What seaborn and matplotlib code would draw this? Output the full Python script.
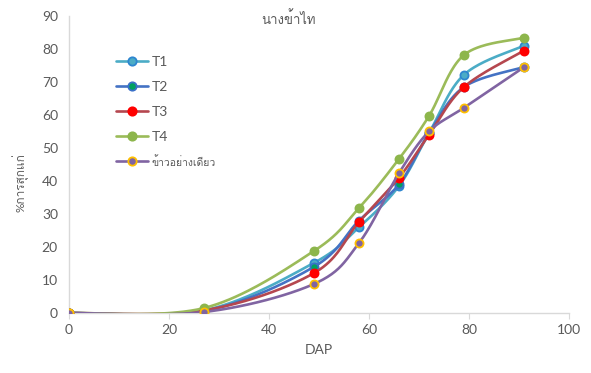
import numpy as np
import pandas as pd
import matplotlib
matplotlib.use("Agg")
import matplotlib.pyplot as plt
from matplotlib import font_manager
from matplotlib.lines import Line2D
import seaborn as sns

# ---- data ----
dap = [0, 27, 49, 58, 66, 72, 79, 91]
t1 = [0, 0.8, 15.2, 26.0, 38.5, 54.5, 72.2, 81.0]
t2 = [0, 0.6, 14.0, 28.0, 39.0, 54.5, 68.5, 74.5]
t3 = [0, 0.8, 12.1, 27.6, 41.0, 54.0, 68.5, 79.5]
t4 = [0, 1.5, 18.8, 31.8, 46.7, 59.7, 78.2, 83.4]
rice_only = [0, 0.3, 8.8, 21.2, 42.4, 55.0, 62.2, 74.5]
series_names = ["T1", "T2", "T3", "T4", "ข้าวอย่างเดียว"]
title_text = "นางข้าไท"
ylabel_text = "%การสุกแก่"
xlabel_text = "DAP"
x_ticks = [0, 20, 40, 60, 80, 100]
y_ticks = [0, 10, 20, 30, 40, 50, 60, 70, 80, 90]

sns.set_theme(style="white")

# find a font that has Thai glyphs
thai_family = None
for f in font_manager.fontManager.ttflist:
    try:
        ft = matplotlib.ft2font.FT2Font(f.fname)
        cm = ft.get_charmap()
        if 0x0E19 in cm and 0x0E32 in cm:
            thai_family = f.name
            break
    except Exception:
        pass
fams = ["Lato", "DejaVu Sans"]
if thai_family:
    fams = ["Lato", thai_family, "DejaVu Sans"]
plt.rcParams["font.family"] = fams

grey = "#595959"

line_colors = ["#4BACC6", "#4472C4", "#B5474F", "#9BBB59", "#8064A2"]
marker_faces = ["#4BACC6", "#00A060", "#FF0000", "#8DB64C", "#8064A2"]
marker_edges = ["#2E86D0", "#3A70C8", "#FF0000", "#8DB64C", "#FFC000"]


def smooth(xs, ys, n=40):
    # Excel-like smoothed line: Catmull-Rom converted to cubic Bezier
    P = np.column_stack([xs, ys]).astype(float)
    out = []
    m = len(P)
    t = np.linspace(0, 1, n)[:, None]
    for i in range(m - 1):
        p0 = P[i - 1] if i > 0 else P[i]
        p1 = P[i]
        p2 = P[i + 1]
        p3 = P[i + 2] if i + 2 < m else P[i + 1]
        c1 = p1 + (p2 - p0) / 6.0
        c2 = p2 - (p3 - p1) / 6.0
        seg = ((1 - t) ** 3) * p1 + 3 * ((1 - t) ** 2) * t * c1 + 3 * (1 - t) * t ** 2 * c2 + t ** 3 * p2
        out.append(seg if i == 0 else seg[1:])
    S = np.vstack(out)
    return S[:, 0], S[:, 1]


fig = plt.figure(figsize=(5.91, 3.73), dpi=100)
ax = fig.add_axes([69 / 591, 60 / 373, 500 / 591, 297 / 373])

all_series = [t1, t2, t3, t4, rice_only]
handles = []
for k, (name, vals) in enumerate(zip(series_names, all_series)):
    sx, sy = smooth(dap, vals)
    df_s = pd.DataFrame({"x": sx, "y": sy})
    sns.lineplot(data=df_s, x="x", y="y", sort=False, estimator=None, ax=ax,
                 color=line_colors[k], linewidth=1.9, legend=False, zorder=2 + k)
    df_p = pd.DataFrame({"x": dap, "y": vals})
    sns.scatterplot(data=df_p, x="x", y="y", ax=ax, s=34, color=marker_faces[k],
                    edgecolor=marker_edges[k], linewidth=1.3, legend=False, zorder=2.5 + k)
    handles.append(Line2D([0], [0], color=line_colors[k], lw=1.9, marker="o", markersize=6,
                          markerfacecolor=marker_faces[k], markeredgecolor=marker_edges[k],
                          markeredgewidth=1.3))

ax.set_xlim(0, 100)
ax.set_ylim(0, 90)
ax.set_xticks(x_ticks)
ax.set_yticks(y_ticks)
ax.tick_params(axis="x", colors=grey, labelsize=10, length=4, width=0.8, direction="out",
               color="#D9D9D9", bottom=True, pad=4)
ax.tick_params(axis="y", colors=grey, labelsize=10, length=0, pad=8)
for s in ["top", "right"]:
    ax.spines[s].set_visible(False)
for s in ["left", "bottom"]:
    ax.spines[s].set_color("#D9D9D9")
    ax.spines[s].set_linewidth(1.0)
ax.set_xlabel(xlabel_text, color=grey, fontsize=10, labelpad=6)
ax.set_ylabel("")
fig.text(20 / 591, 1 - 183 / 373, ylabel_text, rotation=90, ha="center", va="center",
         color=grey, fontsize=8.5)
fig.text(288 / 591, 1 - 18 / 373, title_text, ha="center", va="center", color=grey, fontsize=9.5)

leg = fig.legend(handles, series_names, loc="upper left",
                 bbox_to_anchor=(110 / 591, 1 - 50 / 373), frameon=False,
                 fontsize=10, labelspacing=0.95, handlelength=2.3, handletextpad=0.3,
                 borderaxespad=0)
for txt in leg.get_texts():
    txt.set_color(grey)
leg.get_texts()[-1].set_fontsize(7.5)

fig.savefig("out.png", dpi=100)
